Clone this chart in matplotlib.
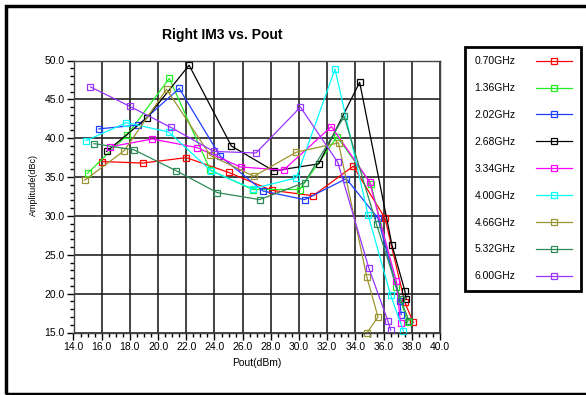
import matplotlib
matplotlib.use("Agg")
from matplotlib import pyplot as plt
from matplotlib.patches import Rectangle
from matplotlib.ticker import MultipleLocator, FormatStrFormatter

plt.rcParams['font.family'] = ['Liberation Sans', 'DejaVu Sans']

labels = ['0.70GHz', '1.36GHz', '2.02GHz', '2.68GHz', '3.34GHz',
          '4.00GHz', '4.66GHz', '5.32GHz', '6.00GHz']
colors = ['#ff0000', '#22ee22', '#1f3fff', '#000000', '#ff00ff',
          '#00ffff', '#9c9430', '#2e8b57', '#9933ff']

# Pout (dBm) / Amplitude (dBc)
pout = [
    [16.05, 18.9, 22.0, 25.0, 28.05, 31.0, 33.85, 36.1, 37.5, 38.1],
    [15.0, 17.8, 20.8, 23.7, 26.7, 30.05, 32.7, 35.1, 36.9, 37.7],
    [15.8, 18.6, 21.5, 24.4, 27.45, 30.4, 33.35, 35.6, 37.15, 37.25],
    [16.35, 19.2, 22.2, 25.2, 28.2, 31.4, 34.3, 36.6, 37.5, 37.6],
    [16.6, 19.6, 22.75, 25.85, 28.9, 32.3, 35.0, 36.9, 37.2],
    [14.9, 17.75, 20.75, 23.75, 26.7, 29.8, 32.55, 34.9, 36.5, 37.4],
    [14.8, 17.6, 20.6, 23.7, 26.8, 29.8, 32.8, 34.8, 35.6, 34.8],
    [15.45, 18.3, 21.3, 24.2, 27.2, 30.4, 33.2, 35.5, 37.2, 37.8],
    [15.2, 18.0, 20.9, 23.95, 26.95, 30.1, 32.75, 34.95, 36.3, 36.5],
]
amp = [
    [37.0, 36.8, 37.5, 35.6, 33.3, 32.6, 36.4, 29.7, 18.9, 16.3],
    [35.5, 40.4, 47.7, 35.9, 33.4, 33.4, 40.2, 34.1, 20.9, 16.3],
    [41.2, 41.7, 46.4, 37.7, 33.2, 32.1, 34.8, 29.7, 19.0, 17.3],
    [38.3, 42.6, 49.4, 39.0, 35.8, 36.7, 47.2, 26.2, 20.4, 19.3],
    [38.9, 39.9, 38.8, 36.3, 35.9, 41.5, 34.4, 21.6, 16.2],
    [39.7, 42.0, 40.8, 35.8, 33.5, 34.9, 48.9, 30.1, 19.8, 15.2],
    [34.6, 38.4, 46.3, 37.8, 35.1, 38.2, 39.4, 22.2, 17.0, 14.9],
    [39.3, 38.5, 35.8, 33.0, 32.1, 34.3, 42.8, 28.9, 19.3, 16.5],
    [46.6, 44.1, 41.4, 38.3, 38.1, 44.0, 36.9, 23.3, 16.5, 15.3],
]

fig = plt.figure(figsize=(5.86, 3.95), dpi=100)
ax = fig.add_axes([73.5/586, 1-332.5/395, (440-73.5)/586, (332.5-60.5)/395])

lines = []
for i in range(len(labels)):
    ln, = ax.plot(pout[i], amp[i], '-s', color=colors[i], lw=0.9,
                  markersize=4.5, markerfacecolor='none', markeredgewidth=0.9,
                  label=labels[i], clip_on=False)
    lines.append(ln)

ax.set_xlim(14, 40)
ax.set_ylim(15, 50)
ax.xaxis.set_major_locator(MultipleLocator(2))
ax.xaxis.set_minor_locator(MultipleLocator(0.5))
ax.yaxis.set_major_locator(MultipleLocator(5))
ax.yaxis.set_minor_locator(MultipleLocator(1))
ax.xaxis.set_major_formatter(FormatStrFormatter('%.1f'))
ax.yaxis.set_major_formatter(FormatStrFormatter('%.1f'))
ax.tick_params(which='major', direction='out', length=5, width=1, labelsize=7.5, pad=1.5)
ax.tick_params(which='minor', direction='out', length=3, width=1)
ax.grid(True, which='major', color='#222222', lw=1.2)
ax.set_axisbelow(True)
for sp in ax.spines.values():
    sp.set_color('#444444')
    sp.set_linewidth(1)

ax.set_xlabel('Pout(dBm)', fontsize=7.5, labelpad=5)
fig.text(33/586, 1-185/395, 'Amplitude(dBc)', rotation=90, fontsize=6.5,
         ha='center', va='center')
fig.text(222/586, 1-35/395, 'Right IM3 vs. Pout', fontsize=10, fontweight='bold',
         ha='center', va='center')

lgd = fig.legend(handles=lines, loc='upper left',
                 bbox_to_anchor=(465/586, 1-47/395), bbox_transform=fig.transFigure,
                 markerfirst=False, fontsize=7.5, labelspacing=1.62,
                 handlelength=3.4, handletextpad=2.0, borderpad=0.9,
                 borderaxespad=0, fancybox=False, edgecolor='black', framealpha=1)
lgd.get_frame().set_linewidth(2)

fig.patches.append(Rectangle((6/586, 1-394/395), 1.2, (394-6)/395,
                             transform=fig.transFigure, fill=False,
                             edgecolor='black', lw=2.5, clip_on=False))

fig.savefig('out.png', dpi=100)
